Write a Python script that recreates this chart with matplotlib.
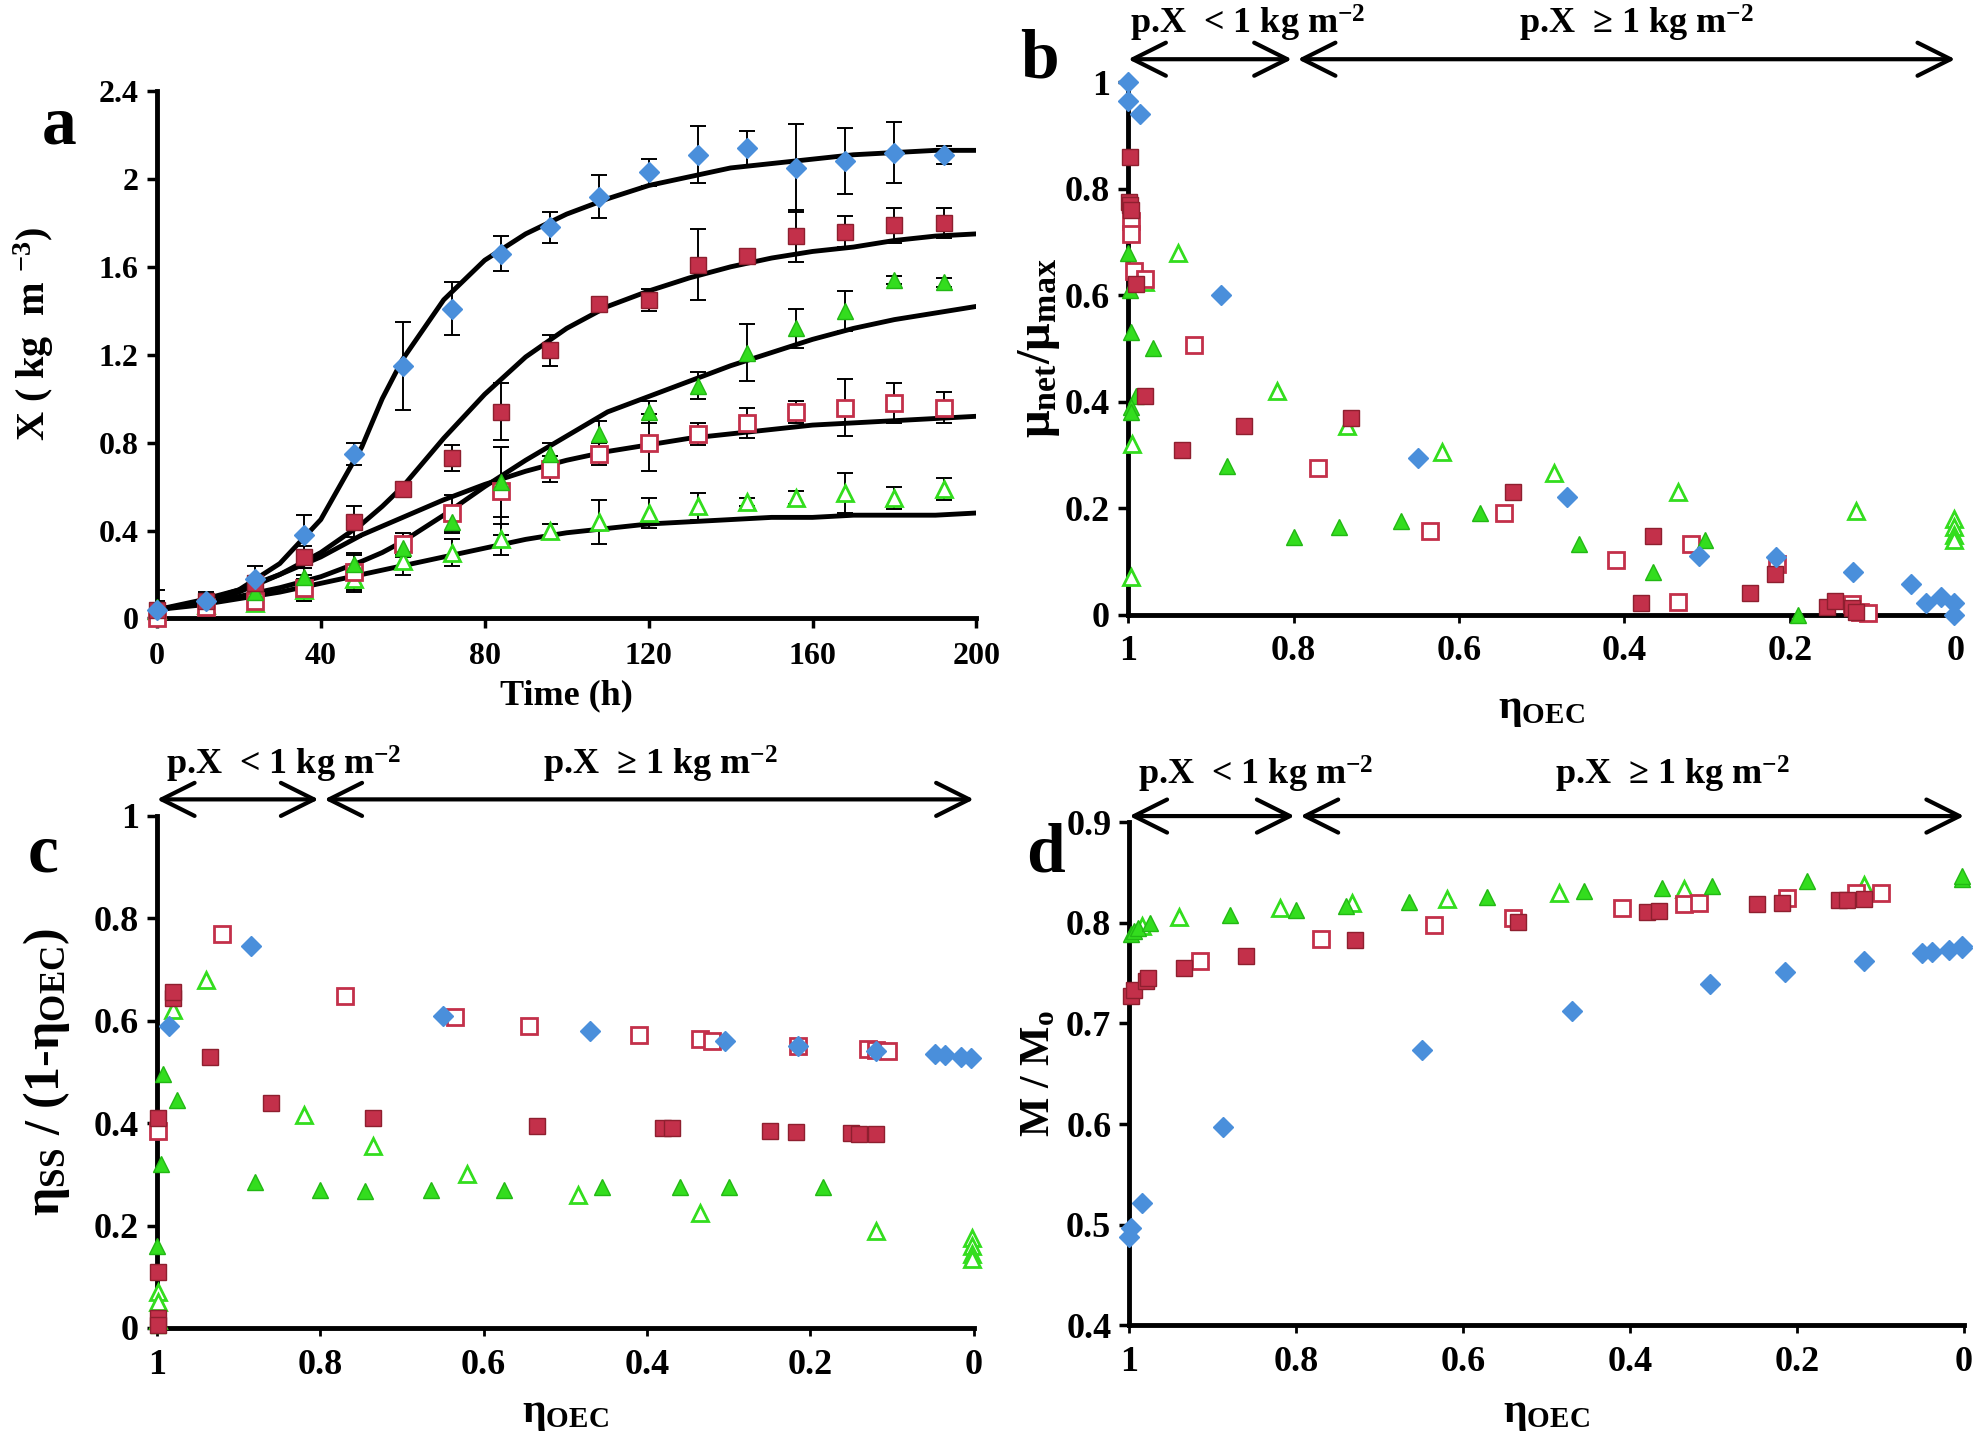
import numpy as np
import matplotlib.pyplot as plt
from matplotlib.ticker import FormatStrFormatter

plt.rcParams['font.family'] = 'Liberation Serif'
plt.rcParams['font.weight'] = 'bold'
plt.rcParams['mathtext.fontset'] = 'custom'
plt.rcParams['mathtext.rm'] = 'Liberation Serif:bold'
plt.rcParams['mathtext.it'] = 'Liberation Serif:bold'
plt.rcParams['mathtext.bf'] = 'Liberation Serif:bold'
plt.rcParams['mathtext.default'] = 'rm'

# ---- panel a : biomass vs time ----
t = [0, 12, 24, 36, 48, 60, 72, 84, 96, 108, 120, 132, 144, 156, 168, 180, 192]
xa_blue = [0.04, 0.08, 0.18, 0.38, 0.75, 1.15, 1.41, 1.66, 1.78, 1.92, 2.03, 2.11, 2.14, 2.05, 2.08, 2.12, 2.11]
ea_blue = [0.09, 0.03, 0.06, 0.09, 0.05, 0.2, 0.12, 0.08, 0.07, 0.1, 0.06, 0.13, 0.08, 0.2, 0.15, 0.14, 0.04]
xa_red = [0.04, 0.08, 0.16, 0.28, 0.44, 0.59, 0.73, 0.94, 1.22, 1.43, 1.45, 1.61, 1.65, 1.74, 1.76, 1.79, 1.80]
ea_red = [0.03, 0.03, 0.03, 0.05, 0.07, 0.02, 0.06, 0.13, 0.07, 0.02, 0.05, 0.16, 0.02, 0.12, 0.07, 0.08, 0.07]
xa_green = [0.05, 0.09, 0.12, 0.19, 0.25, 0.32, 0.44, 0.62, 0.75, 0.84, 0.94, 1.06, 1.21, 1.32, 1.40, 1.54, 1.53]
ea_green = [0.03, 0.03, 0.04, 0.04, 0.05, 0.04, 0.05, 0.16, 0.05, 0.06, 0.05, 0.06, 0.13, 0.09, 0.09, 0.02, 0.02]
xa_redo = [0.0, 0.05, 0.08, 0.14, 0.21, 0.34, 0.48, 0.58, 0.68, 0.75, 0.80, 0.84, 0.89, 0.94, 0.96, 0.98, 0.96]
ea_redo = [0.02, 0.04, 0.04, 0.06, 0.08, 0.05, 0.08, 0.2, 0.06, 0.05, 0.13, 0.05, 0.07, 0.05, 0.13, 0.09, 0.07]
xa_greeno = [0.04, 0.06, 0.07, 0.13, 0.18, 0.26, 0.30, 0.36, 0.40, 0.44, 0.48, 0.51, 0.53, 0.55, 0.57, 0.55, 0.59]
ea_greeno = [0.02, 0.03, 0.03, 0.05, 0.06, 0.06, 0.06, 0.07, 0.03, 0.1, 0.07, 0.06, 0.02, 0.03, 0.09, 0.05, 0.05]

# fitted curves
t_fit = [0, 10, 20, 30, 40, 50, 55, 60, 70, 80, 90, 100, 110, 120, 130, 140, 150, 160, 170, 180, 190, 200]
fit_blue = [0.04, 0.07, 0.13, 0.25, 0.45, 0.78, 1.0, 1.18, 1.45, 1.63, 1.75, 1.84, 1.91, 1.97, 2.01, 2.05, 2.07, 2.09, 2.11, 2.12, 2.13, 2.13]
fit_red = [0.04, 0.07, 0.12, 0.2, 0.3, 0.43, 0.51, 0.6, 0.82, 1.02, 1.19, 1.32, 1.42, 1.49, 1.55, 1.60, 1.64, 1.67, 1.69, 1.72, 1.74, 1.75]
fit_green = [0.04, 0.07, 0.1, 0.14, 0.19, 0.26, 0.3, 0.35, 0.47, 0.6, 0.72, 0.83, 0.94, 1.01, 1.08, 1.15, 1.21, 1.27, 1.32, 1.36, 1.39, 1.42]
fit_redo = [0.04, 0.08, 0.13, 0.2, 0.28, 0.38, 0.42, 0.46, 0.54, 0.61, 0.67, 0.72, 0.76, 0.79, 0.82, 0.84, 0.86, 0.88, 0.89, 0.90, 0.91, 0.92]
fit_greeno = [0.04, 0.06, 0.09, 0.12, 0.16, 0.2, 0.22, 0.24, 0.28, 0.32, 0.36, 0.39, 0.41, 0.43, 0.44, 0.45, 0.46, 0.46, 0.47, 0.47, 0.47, 0.48]

# ---- panel b : mu_net / mu_max vs eta_OEC ----
b_blue_x = [1.0, 1.0, 0.986, 0.888, 0.65, 0.47, 0.31, 0.217, 0.124, 0.054, 0.035, 0.017, 0.002, 0.002]
b_blue_y = [1.0, 0.965, 0.94, 0.60, 0.295, 0.22, 0.11, 0.108, 0.08, 0.057, 0.022, 0.033, 0.022, 0.0]
b_red_x = [0.998, 0.999, 0.998, 0.996, 0.98, 0.99, 0.935, 0.86, 0.73, 0.535, 0.365, 0.38, 0.248, 0.218, 0.155, 0.145, 0.125, 0.12]
b_red_y = [0.86, 0.775, 0.77, 0.76, 0.41, 0.62, 0.31, 0.355, 0.37, 0.23, 0.148, 0.022, 0.04, 0.077, 0.015, 0.025, 0.012, 0.005]
b_redo_x = [0.997, 0.997, 0.993, 0.98, 0.92, 0.77, 0.635, 0.545, 0.41, 0.335, 0.32, 0.215, 0.125, 0.115, 0.105]
b_redo_y = [0.74, 0.715, 0.645, 0.63, 0.507, 0.275, 0.157, 0.19, 0.102, 0.024, 0.133, 0.095, 0.02, 0.005, 0.003]
b_green_x = [1.0, 0.998, 0.997, 0.97, 0.99, 0.997, 0.996, 0.88, 0.8, 0.745, 0.67, 0.575, 0.455, 0.365, 0.303, 0.19]
b_green_y = [0.68, 0.61, 0.53, 0.50, 0.41, 0.39, 0.38, 0.28, 0.145, 0.165, 0.175, 0.19, 0.133, 0.08, 0.14, 0.0]
b_greeno_x = [0.94, 0.98, 0.995, 0.997, 0.82, 0.735, 0.62, 0.485, 0.335, 0.12, 0.002, 0.002, 0.002, 0.002]
b_greeno_y = [0.68, 0.625, 0.32, 0.07, 0.42, 0.355, 0.305, 0.265, 0.23, 0.195, 0.18, 0.165, 0.15, 0.14]

# ---- panel c : eta_SS / (1 - eta_OEC) ----
c_blue_x = [0.985, 0.885, 0.65, 0.47, 0.305, 0.215, 0.12, 0.047, 0.035, 0.016, 0.003]
c_blue_y = [0.59, 0.745, 0.61, 0.58, 0.56, 0.55, 0.54, 0.535, 0.533, 0.53, 0.527]
c_red_x = [0.998, 0.98, 0.98, 0.935, 0.86, 0.735, 0.535, 0.38, 0.37, 0.25, 0.218, 0.15, 0.14, 0.12, 0.998, 0.998, 0.999]
c_red_y = [0.41, 0.645, 0.655, 0.53, 0.44, 0.41, 0.395, 0.39, 0.39, 0.385, 0.383, 0.38, 0.378, 0.378, 0.11, 0.02, 0.005]
c_redo_x = [0.998, 0.92, 0.77, 0.635, 0.545, 0.41, 0.335, 0.32, 0.215, 0.13, 0.12, 0.105]
c_redo_y = [0.385, 0.77, 0.648, 0.607, 0.59, 0.572, 0.565, 0.56, 0.55, 0.545, 0.543, 0.54]
c_green_x = [0.993, 0.975, 0.995, 1.0, 0.88, 0.8, 0.745, 0.665, 0.575, 0.455, 0.36, 0.3, 0.185, 0.999]
c_green_y = [0.495, 0.445, 0.32, 0.16, 0.285, 0.27, 0.267, 0.27, 0.27, 0.275, 0.275, 0.275, 0.275, 0.005]
c_greeno_x = [0.94, 0.98, 0.82, 0.735, 0.62, 0.485, 0.335, 0.12, 0.998, 0.998, 0.998, 0.002, 0.002, 0.002, 0.002]
c_greeno_y = [0.68, 0.62, 0.415, 0.355, 0.30, 0.26, 0.225, 0.19, 0.07, 0.05, 0.015, 0.175, 0.16, 0.145, 0.135]

# ---- panel d : M / Mo ----
d_blue_x = [1.0, 0.998, 0.985, 0.888, 0.65, 0.47, 0.305, 0.215, 0.12, 0.05, 0.038, 0.018, 0.002, 0.002]
d_blue_y = [0.488, 0.497, 0.522, 0.597, 0.674, 0.712, 0.739, 0.751, 0.762, 0.77, 0.771, 0.773, 0.775, 0.777]
d_red_x = [0.998, 0.995, 0.98, 0.978, 0.935, 0.86, 0.73, 0.535, 0.38, 0.365, 0.248, 0.218, 0.15, 0.14, 0.12]
d_red_y = [0.727, 0.733, 0.742, 0.745, 0.755, 0.767, 0.783, 0.801, 0.811, 0.812, 0.819, 0.82, 0.823, 0.823, 0.824]
d_redo_x = [0.915, 0.77, 0.635, 0.54, 0.41, 0.335, 0.318, 0.212, 0.13, 0.1]
d_redo_y = [0.762, 0.784, 0.798, 0.805, 0.815, 0.819, 0.82, 0.825, 0.83, 0.83]
d_green_x = [0.998, 0.995, 0.99, 0.975, 0.88, 0.8, 0.74, 0.665, 0.572, 0.455, 0.362, 0.302, 0.188, 0.002, 0.002]
d_green_y = [0.789, 0.792, 0.795, 0.80, 0.808, 0.813, 0.817, 0.821, 0.826, 0.832, 0.835, 0.837, 0.841, 0.843, 0.846]
d_greeno_x = [0.985, 0.94, 0.82, 0.733, 0.62, 0.485, 0.335, 0.12]
d_greeno_y = [0.797, 0.806, 0.815, 0.82, 0.824, 0.83, 0.834, 0.838]

BLUE = '#4a8fdb'
RED = '#c3304a'
REDE = '#8e1f2f'
GREEN = '#33dd1e'
GREENE = '#22b814'

styles = {
    'blue': dict(marker='D', ms=10, mfc=BLUE, mec=BLUE, mew=1),
    'red': dict(marker='s', ms=12, mfc=RED, mec=REDE, mew=1),
    'redo': dict(marker='s', ms=12, mfc='white', mec=RED, mew=2),
    'green': dict(marker='^', ms=12, mfc=GREEN, mec=GREENE, mew=1),
    'greeno': dict(marker='^', ms=12, mfc='white', mec=GREEN, mew=2),
}

fig = plt.figure(figsize=(19.73, 14.38), dpi=100)
ax_a = fig.add_axes([0.0795, 0.5699, 0.4154, 0.3668])
ax_b = fig.add_axes([0.5718, 0.5726, 0.4192, 0.3703])
ax_c = fig.add_axes([0.0795, 0.0765, 0.4141, 0.3562])
ax_d = fig.add_axes([0.5724, 0.0783, 0.4231, 0.3500])


def style_axes(ax, size):
    for s in ['top', 'right']:
        ax.spines[s].set_visible(False)
    for s in ['left', 'bottom']:
        ax.spines[s].set_linewidth(3.5)
    ax.tick_params(axis='both', direction='out', length=7, width=2.5, labelsize=size, pad=6)
    for lab in ax.get_xticklabels() + ax.get_yticklabels():
        lab.set_fontweight('bold')


def place_labels(ax, xl_y, yl_x, yl_y=0.5):
    ax.xaxis.set_label_coords(0.5, xl_y)
    ax.yaxis.set_label_coords(yl_x, yl_y)
    ax.xaxis.label.set_va('center')
    ax.yaxis.label.set_va('center')
    ax.yaxis.label.set_ha('center')


# panel a
for fy in [fit_blue, fit_red, fit_green, fit_redo, fit_greeno]:
    ax_a.plot(t_fit, fy, color='black', lw=3.5, zorder=2)
for y, e, key in [(xa_greeno, ea_greeno, 'greeno'), (xa_redo, ea_redo, 'redo'),
                  (xa_green, ea_green, 'green'), (xa_red, ea_red, 'red'), (xa_blue, ea_blue, 'blue')]:
    ax_a.errorbar(t, y, yerr=e, fmt='none', ecolor='black', elinewidth=1.4, capsize=6, capthick=1.4, zorder=3)
    ax_a.plot(t, y, ls='none', zorder=4, clip_on=False, **styles[key])
ax_a.set_xlim(0, 200)
ax_a.set_ylim(0, 2.4)
ax_a.set_xticks([0, 40, 80, 120, 160, 200])
ax_a.set_yticks([0, 0.4, 0.8, 1.2, 1.6, 2.0, 2.4])
ax_a.yaxis.set_major_formatter(FormatStrFormatter('%g'))
style_axes(ax_a, 23)
ax_a.tick_params(axis='x', pad=10)
ax_a.set_xlabel('Time (h)', fontsize=26, fontweight='bold')
ax_a.set_ylabel('X ( kg  m $^{-3}$)', fontsize=29, fontweight='bold')
place_labels(ax_a, -0.146, -0.150, 0.54)


def eta_panel(ax, data, ylim, yticks, ylabel, ylsize, arrow_y, text_y, t1x, t2x, xl_y, yl_x):
    for xs, ys, key in data:
        ax.plot(xs, ys, ls='none', zorder=4, clip_on=False, **styles[key])
    ax.set_xlim(1, 0)
    ax.set_ylim(*ylim)
    ax.set_xticks([1, 0.8, 0.6, 0.4, 0.2, 0])
    ax.set_yticks(yticks)
    ax.xaxis.set_major_formatter(FormatStrFormatter('%g'))
    ax.yaxis.set_major_formatter(FormatStrFormatter('%g'))
    style_axes(ax, 26)
    ax.tick_params(axis='x', length=6, width=2, pad=9)
    ax.set_xlabel('η$_{OEC}$', fontsize=30, fontweight='bold')
    ax.set_ylabel(ylabel, fontsize=ylsize, fontweight='bold')
    place_labels(ax, xl_y, yl_x)
    ap = dict(arrowstyle='<->, head_length=0.7, head_width=0.35', lw=3, color='black',
              mutation_scale=34, shrinkA=0, shrinkB=0)
    ax.annotate('', xy=(0.802, arrow_y), xytext=(1.0, arrow_y), arrowprops=ap, annotation_clip=False)
    ax.annotate('', xy=(0.0, arrow_y), xytext=(0.795, arrow_y), arrowprops=ap, annotation_clip=False)
    ax.text(t1x, text_y, 'p.X  < 1 kg m$^{-2}$', fontsize=26, fontweight='bold', ha='center', va='center')
    ax.text(t2x, text_y, 'p.X  ≥ 1 kg m$^{-2}$', fontsize=26, fontweight='bold', ha='center', va='center')


eta_panel(ax_b, [(b_greeno_x, b_greeno_y, 'greeno'), (b_redo_x, b_redo_y, 'redo'),
                 (b_green_x, b_green_y, 'green'), (b_red_x, b_red_y, 'red'), (b_blue_x, b_blue_y, 'blue')],
          (0, 1), [0, 0.2, 0.4, 0.6, 0.8, 1.0], 'μ$_{net}$/μ$_{max}$', 35,
          1.043, 1.11, 0.855, 0.385, -0.18, -0.108)
eta_panel(ax_c, [(c_greeno_x, c_greeno_y, 'greeno'), (c_redo_x, c_redo_y, 'redo'),
                 (c_green_x, c_green_y, 'green'), (c_red_x, c_red_y, 'red'), (c_blue_x, c_blue_y, 'blue')],
          (0, 1), [0, 0.2, 0.4, 0.6, 0.8, 1.0], 'η$_{SS}$ / (1-η$_{OEC}$)', 36,
          1.032, 1.10, 0.845, 0.384, -0.168, -0.135)
eta_panel(ax_d, [(d_greeno_x, d_greeno_y, 'greeno'), (d_redo_x, d_redo_y, 'redo'),
                 (d_green_x, d_green_y, 'green'), (d_red_x, d_red_y, 'red'), (d_blue_x, d_blue_y, 'blue')],
          (0.4, 0.9), [0.4, 0.5, 0.6, 0.7, 0.8, 0.9], 'M / M$_{o}$', 30,
          0.906, 0.947, 0.848, 0.35, -0.176, -0.108)

for lab, x, y in [('a', 0.030, 0.912), ('b', 0.527, 0.958), ('c', 0.022, 0.406), ('d', 0.530, 0.406)]:
    fig.text(x, y, lab, fontsize=50, fontweight='bold', ha='center', va='center')

fig.savefig('out.png', dpi=100)
